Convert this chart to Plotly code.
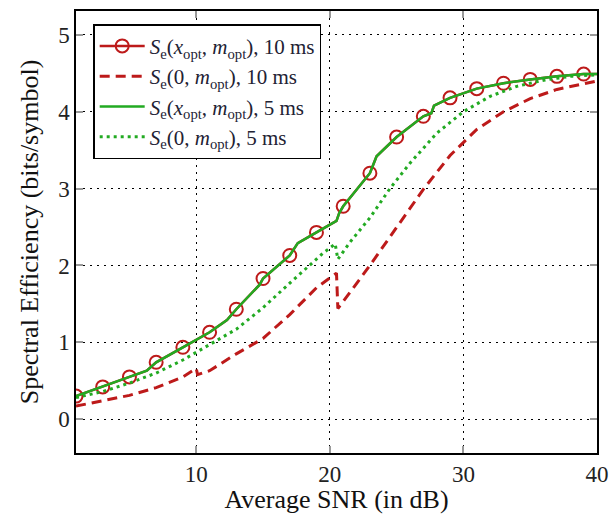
import plotly.graph_objects as go

# ---- data ----
# optimal x, optimal m (solid curves; 10 ms and 5 ms coincide)
solid_snr = [1, 3, 5, 6.3, 7, 9, 11, 12.3, 13, 14.75, 15, 17, 17.6, 19, 20.5, 20.7, 21,
             23, 23.5, 25, 27, 27.6, 27.8, 29, 31, 33, 35, 37, 39, 40]
solid_se = [0.30, 0.42, 0.55, 0.63, 0.74, 0.935, 1.13, 1.29, 1.43, 1.75, 1.83, 2.13, 2.29,
            2.43, 2.58, 2.68, 2.77, 3.20, 3.42, 3.67, 3.94, 3.98, 4.08, 4.18, 4.30, 4.37,
            4.42, 4.46, 4.49, 4.49]
marker_snr = [1, 3, 5, 7, 9, 11, 13, 15, 17, 19, 21, 23, 25, 27, 29, 31, 33, 35, 37, 39]

# x = 0, optimal m, 10 ms (dashed)
red0_snr = [1, 3, 5, 7, 9, 10, 10.1, 11, 13, 15, 17, 19, 20, 20.5, 20.6, 21, 23, 25, 27,
            29, 31, 33, 35, 37, 39, 40]
red0_se = [0.17, 0.24, 0.31, 0.41, 0.55, 0.66, 0.58, 0.63, 0.85, 1.05, 1.36, 1.71, 1.84,
           1.90, 1.44, 1.53, 2.00, 2.49, 2.99, 3.43, 3.77, 4.00, 4.17, 4.29, 4.37, 4.40]

# x = 0, optimal m, 5 ms (dotted)
grn0_snr = [1, 3, 5, 7, 9, 11, 13, 14, 15, 17, 18.5, 19.5, 20.4, 20.6, 21.5, 23, 24.5, 26,
            28, 30, 32, 34, 36, 38, 40]
grn0_se = [0.28, 0.36, 0.47, 0.60, 0.77, 0.97, 1.17, 1.31, 1.45, 1.77, 2.00, 2.16, 2.28,
           2.08, 2.30, 2.62, 3.00, 3.33, 3.72, 4.00, 4.20, 4.33, 4.41, 4.46, 4.48]

names = [
    "<i>S</i><sub>e</sub>(<i>x</i><sub>opt</sub>, <i>m</i><sub>opt</sub>), 10 ms",
    "<i>S</i><sub>e</sub>(0, <i>m</i><sub>opt</sub>), 10 ms",
    "<i>S</i><sub>e</sub>(<i>x</i><sub>opt</sub>, <i>m</i><sub>opt</sub>), 5 ms",
    "<i>S</i><sub>e</sub>(0, <i>m</i><sub>opt</sub>), 5 ms",
]
x_ticks = [10, 20, 30, 40]
y_ticks = [0, 1, 2, 3, 4, 5]

RED = "#bd1a1a"
GREEN = "#22aa22"
FONT = "Liberation Serif"

marker_colors = [RED if s in marker_snr else "rgba(0,0,0,0)" for s in solid_snr]

fig = go.Figure()
fig.add_trace(go.Scatter(
    x=solid_snr, y=solid_se, name=names[0], mode="lines+markers",
    line=dict(color=RED, width=2.5),
    marker=dict(symbol="circle-open", size=13, color=marker_colors,
                line=dict(width=2)),
))
fig.add_trace(go.Scatter(
    x=red0_snr, y=red0_se, name=names[1], mode="lines",
    line=dict(color=RED, width=3, dash="10px,6px"),
))
fig.add_trace(go.Scatter(
    x=solid_snr, y=solid_se, name=names[2], mode="lines",
    line=dict(color=GREEN, width=2.5),
))
fig.add_trace(go.Scatter(
    x=grn0_snr, y=grn0_se, name=names[3], mode="lines",
    line=dict(color=GREEN, width=3, dash="3px,4px"),
))

axis_common = dict(
    showline=True, linecolor="black", linewidth=1.5, mirror="ticks",
    ticks="inside", ticklen=7, tickcolor="#999999", tickwidth=1.5,
    showgrid=True, gridcolor="black", gridwidth=1, griddash="2px,5px",
    zeroline=False, automargin=False,
    tickfont=dict(family=FONT, size=23, color="#222222"),
)

fig.update_xaxes(
    range=[1, 40], tickvals=x_ticks, ticktext=[str(v) for v in x_ticks],
    title=dict(text="Average SNR (in dB)", font=dict(family=FONT, size=26, color="#111111"),
               standoff=8),
    **axis_common,
)
fig.update_yaxes(
    range=[-0.44, 5.31], tickvals=y_ticks, ticktext=[str(v) for v in y_ticks],
    title=dict(text="Spectral Efficiency (bits/symbol)",
               font=dict(family=FONT, size=26, color="#111111"), standoff=12),
    **axis_common,
)

fig.update_layout(
    width=610, height=514,
    margin=dict(l=76, r=13, t=11, b=61),
    paper_bgcolor="white", plot_bgcolor="white",
    font=dict(family=FONT, color="#222222"),
    legend=dict(
        x=0.033, y=0.97, xanchor="left", yanchor="top",
        bgcolor="white", bordercolor="black", borderwidth=1.5,
        font=dict(family=FONT, size=21, color="#222233"),
        tracegroupgap=0, itemwidth=45,
    ),
)

fig.write_html("out.html")
